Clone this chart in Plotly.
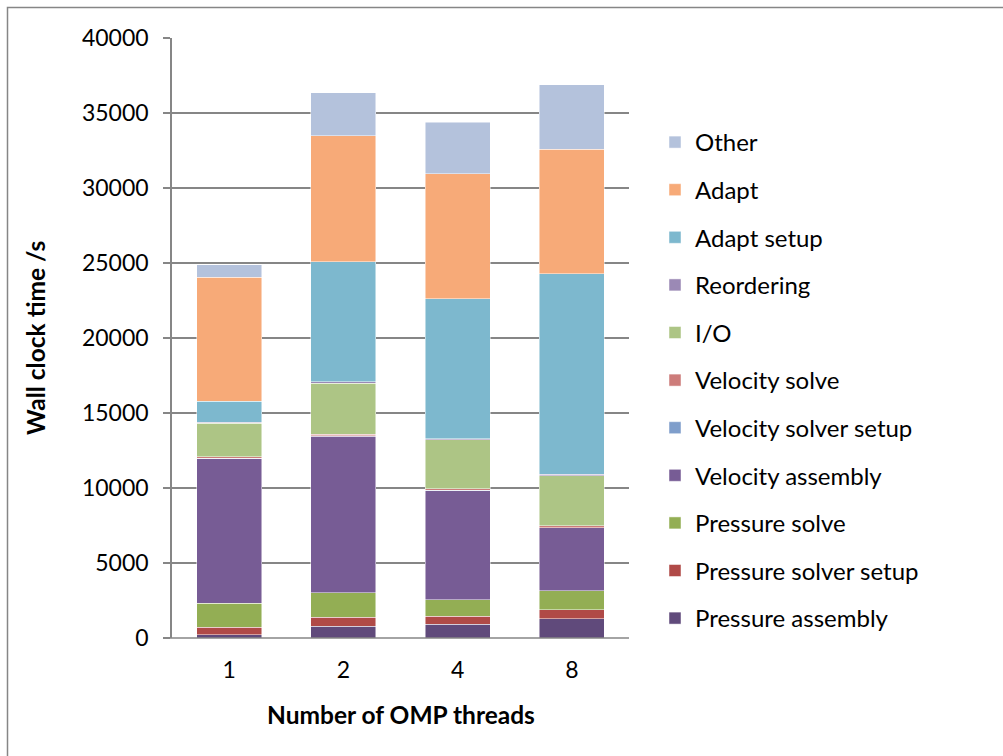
import plotly.graph_objects as go

categories = ["1", "2", "4", "8"]

series_names = [
    "Pressure assembly",
    "Pressure solver setup",
    "Pressure solve",
    "Velocity assembly",
    "Velocity solver setup",
    "Velocity solve",
    "I/O",
    "Reordering",
    "Adapt setup",
    "Adapt",
    "Other",
]

pressure_assembly = [230, 800, 930, 1270]
pressure_solver_setup = [500, 600, 530, 600]
pressure_solve = [1580, 1620, 1100, 1270]
velocity_assembly = [9670, 10440, 7270, 4200]
velocity_solver_setup = [20, 20, 20, 20]
velocity_solve = [80, 100, 90, 110]
io = [2230, 3420, 3290, 3360]
reordering = [60, 100, 60, 90]
adapt_setup = [1400, 7970, 9340, 13370]
adapt = [8290, 8430, 8310, 8310]
other = [830, 2840, 3430, 4270]

series_values = [
    pressure_assembly, pressure_solver_setup, pressure_solve, velocity_assembly,
    velocity_solver_setup, velocity_solve, io, reordering, adapt_setup, adapt, other,
]

colors = [
    "#604A7B", "#B04A47", "#93AE54", "#775C95", "#7F9ECB", "#CD7C7A",
    "#ADC585", "#9B89B5", "#7DB8CE", "#F7AA78", "#B4C2DC",
]

y_ticks = [0, 5000, 10000, 15000, 20000, 25000, 30000, 35000, 40000]

FONT = "Lato"
FS = 23

fig = go.Figure()
n = len(series_names)
for i, (name, vals, col) in enumerate(zip(series_names, series_values, colors)):
    fig.add_trace(go.Bar(
        x=categories, y=vals, name=name, legendgroup=name,
        legendrank=100 + (n - i),
        marker=dict(color=col, line=dict(color="rgba(255,255,255,0.6)", width=0.8)),
    ))

L, R, T, B = 172, 629, 38, 638
W, H = 1003, 756

def px_x(p):
    return (p - L) / (R - L)

def px_y(p):
    return (B - p) / (B - T)

fig.update_layout(
    width=W, height=H,
    margin=dict(l=L, r=W - R, t=T, b=H - B),
    barmode="stack",
    bargap=0.43,
    plot_bgcolor="white",
    paper_bgcolor="white",
    font=dict(family=FONT, size=FS, color="black"),
    showlegend=True,
    legend=dict(
        traceorder="grouped",
        tracegroupgap=13.4,
        x=px_x(655), y=px_y(120), xanchor="left", yanchor="top",
        font=dict(family=FONT, size=24, color="black"),
        bgcolor="rgba(0,0,0,0)",
    ),
    xaxis=dict(
        type="category",
        showgrid=False,
        showline=False,
        ticks="",
        ticklabelstandoff=16,
        tickfont=dict(family=FONT, size=FS),
    ),
    yaxis=dict(
        range=[0, 40000],
        tickvals=y_ticks,
        ticktext=[str(v) for v in y_ticks],
        showgrid=True,
        gridcolor="#868686",
        gridwidth=1.5,
        showline=True,
        linecolor="#868686",
        linewidth=1.5,
        ticks="outside",
        ticklen=7,
        tickcolor="#868686",
        tickwidth=1.5,
        ticklabelstandoff=10,
        tickfont=dict(family=FONT, size=FS),
        zeroline=False,
    ),
    shapes=[
        dict(type="line", xref="paper", yref="paper", x0=px_x(165), x1=1, y0=0, y1=0,
             line=dict(color="#868686", width=1.5), layer="above"),
        dict(type="rect", xref="paper", yref="paper",
             x0=px_x(7.5), x1=px_x(1010), y0=px_y(770), y1=px_y(7.5),
             line=dict(color="#868686", width=1.5)),
    ],
    annotations=[
        dict(text="<b>Wall clock time /s</b>", xref="paper", yref="paper",
             x=px_x(35), y=px_y(338), textangle=-90, showarrow=False,
             xanchor="center", yanchor="middle", font=dict(family=FONT, size=24.5)),
        dict(text="<b>Number of OMP threads</b>", xref="paper", yref="paper",
             x=px_x(401), y=px_y(714), showarrow=False,
             xanchor="center", yanchor="middle", font=dict(family=FONT, size=24.5)),
    ],
)

fig.write_html("out.html")
